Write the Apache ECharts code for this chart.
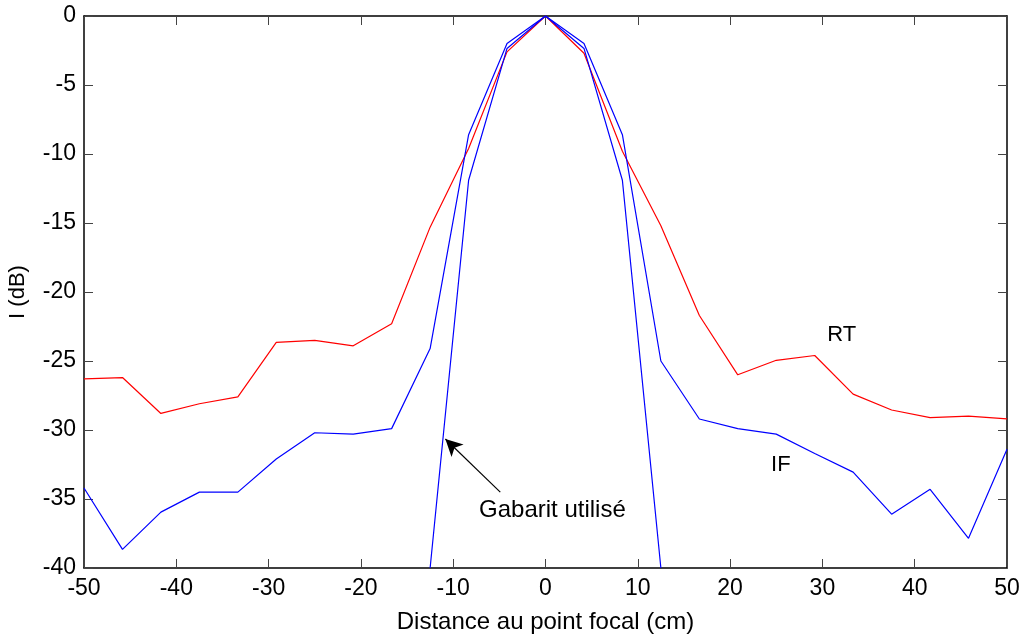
<!DOCTYPE html>
<html>
<head>
<meta charset="utf-8">
<script src="https://cdn.jsdelivr.net/npm/echarts@6/dist/echarts.min.js"></script>
<style>
  html, body { margin: 0; padding: 0; background: #fff; }
  #chart { width: 1024px; height: 636px; }
</style>
</head>
<body>
<div id="chart"></div>
<script>
// Sample positions along the axis (cm), step 100/24
const distances = [-50, -45.83, -41.67, -37.5, -33.33, -29.17, -25, -20.83, -16.67, -12.5, -8.33, -4.17,
  0, 4.17, 8.33, 12.5, 16.67, 20.83, 25, 29.17, 33.33, 37.5, 41.67, 45.83, 50];

// Focal intensity, RT method (dB)
const rtValues = [-26.3, -26.2, -28.8, -28.1, -27.6, -23.65, -23.5, -23.9, -22.3, -15.3, -9.6, -2.6,
  0, -2.7, -9.8, -15.2, -21.7, -26.0, -24.95, -24.6, -27.4, -28.55, -29.1, -29.0, -29.2];

// Focal intensity, IF method (dB)
const ifValues = [-34.2, -38.65, -35.95, -34.5, -34.5, -32.1, -30.2, -30.3, -29.9, -24.1, -8.6, -2.0,
  0, -2.0, -8.6, -25.0, -29.2, -29.9, -30.3, -31.7, -33.05, -36.1, -34.3, -37.85, -31.4];

// Template used
const templateX = [-12.5, -8.33, -4.17, 0, 4.17, 8.33, 12.5];
const templateValues = [-40, -11.9, -2.35, 0, -2.35, -11.9, -40];

const xTicks = [-50, -40, -30, -20, -10, 0, 10, 20, 30, 40, 50];
const yTicks = [0, -5, -10, -15, -20, -25, -30, -35, -40];

const FONT = '"Liberation Sans", Arial, sans-serif';

const pair = (xs, ys) => xs.map((x, i) => [x, ys[i]]);

const chart = echarts.init(document.getElementById('chart'), null, { renderer: 'canvas' });

const tickStyle = { show: true, inside: true, length: 9, lineStyle: { color: '#444', width: 1 } };
const frameLine = { show: true, onZero: false, lineStyle: { color: '#000', width: 1.5 } };

chart.setOption({
  animation: false,
  backgroundColor: '#fff',
  grid: { left: 84, right: 17, top: 16, bottom: 68, containLabel: false, outerBoundsMode: 'none' },
  xAxis: [
    {
      type: 'value', min: -50, max: 50, interval: 10, position: 'bottom',
      axisLine: frameLine, axisTick: tickStyle, splitLine: { show: false },
      axisLabel: { color: '#000', fontFamily: FONT, fontSize: 23, margin: 9 },
      name: 'Distance au point focal (cm)', nameLocation: 'middle', nameGap: 42,
      nameTextStyle: { color: '#000', fontFamily: FONT, fontSize: 24 }
    },
    {
      type: 'value', min: -50, max: 50, interval: 10, position: 'top',
      axisLine: frameLine, axisTick: tickStyle, axisLabel: { show: false }, splitLine: { show: false }
    }
  ],
  yAxis: [
    {
      type: 'value', min: -40, max: 0, interval: 5, position: 'left',
      axisLine: frameLine, axisTick: tickStyle, splitLine: { show: false },
      axisLabel: { color: '#000', fontFamily: FONT, fontSize: 23, margin: 8 },
      name: 'I (dB)', nameLocation: 'middle', nameGap: 55, nameRotate: 90,
      nameTextStyle: { color: '#000', fontFamily: FONT, fontSize: 22 }
    },
    {
      type: 'value', min: -40, max: 0, interval: 5, position: 'right',
      axisLine: frameLine, axisTick: tickStyle, axisLabel: { show: false }, splitLine: { show: false }
    }
  ],
  series: [
    {
      name: 'RT', type: 'line', data: pair(distances, rtValues), showSymbol: false,
      lineStyle: { color: '#ff0000', width: 1.2 }, z: 3
    },
    {
      name: 'IF', type: 'line', data: pair(distances, ifValues), showSymbol: false,
      lineStyle: { color: '#0000ff', width: 1.2 }, z: 4
    },
    {
      name: 'Gabarit', type: 'line', data: pair(templateX, templateValues), showSymbol: false,
      lineStyle: { color: '#0000ff', width: 1.2 }, z: 4,
      markLine: {
        silent: true, symbol: ['none', 'arrow'], symbolSize: [13, 17],
        lineStyle: { color: '#000', width: 1.2, type: 'solid' },
        label: { show: false },
        data: [[{ coord: [-4.9, -34.5] }, { coord: [-10.85, -30.65] }]]
      }
    }
  ]
});

// Text annotations placed in data coordinates
const notes = [
  { text: 'RT', at: [32.1, -23.1], align: 'center', size: 22 },
  { text: 'IF', at: [25.5, -32.5], align: 'center', size: 22 },
  { text: 'Gabarit utilisé', at: [-7.2, -35.8], align: 'left', size: 24 }
];
chart.setOption({
  graphic: notes.map(n => {
    const p = chart.convertToPixel({ xAxisIndex: 0, yAxisIndex: 0 }, n.at);
    return {
      type: 'text', x: p[0], y: p[1], z: 10,
      style: { text: n.text, fill: '#000', font: n.size + 'px ' + FONT, textAlign: n.align, textVerticalAlign: 'middle' }
    };
  })
});
</script>
</body>
</html>
